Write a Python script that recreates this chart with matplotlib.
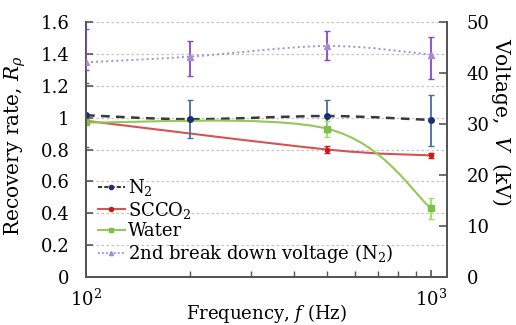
import numpy as np
import matplotlib
matplotlib.use("Agg")
import matplotlib.pyplot as plt
from matplotlib.path import Path
from matplotlib.patches import PathPatch
from matplotlib.lines import Line2D

plt.rcParams['font.family'] = ['DejaVu Serif']
plt.rcParams['mathtext.fontset'] = 'dejavuserif'
plt.rcParams['font.size'] = 13

# data
freq_n2 = [100, 200, 500, 1000]
rate_n2 = [1.015, 0.99, 1.01, 0.985]
err_n2 = [0.20, 0.12, 0.10, 0.16]

freq_co2 = [100, 500, 1000]
rate_co2 = [0.98, 0.80, 0.763]
err_co2 = [0.0, 0.02, 0.015]

freq_water = [100, 500, 1000]
rate_water = [0.97, 0.93, 0.43]
err_water = [0.0, 0.05, 0.065]

freq_v2 = [100, 200, 500, 1000]
volt_v2 = [42.1, 43.2, 45.3, 43.6]
err_v2_lo = [1.5, 3.8, 2.7, 4.7]
err_v2_hi = [6.6, 3.0, 3.0, 3.4]


def smooth_path(x, y):
    # smoothed line (catmull-rom style) in log-x space
    lx = np.log10(np.asarray(x, float))
    yy = np.asarray(y, float)
    pts = np.column_stack([lx, yy])
    n = len(pts)
    verts = [pts[0]]
    codes = [Path.MOVETO]
    for i in range(n - 1):
        p0 = pts[max(i - 1, 0)]
        p1 = pts[i]
        p2 = pts[i + 1]
        p3 = pts[min(i + 2, n - 1)]
        c1 = p1 + (p2 - p0) / 6.0
        c2 = p2 - (p3 - p1) / 6.0
        verts += [c1, c2, p2]
        codes += [Path.CURVE4] * 3
    verts = np.array(verts)
    verts[:, 0] = 10 ** verts[:, 0]
    return Path(verts, codes)


fig = plt.figure(figsize=(5.16, 3.25), dpi=100)
ax = fig.add_axes([0.1667, 0.1477, 0.6996, 0.7846])
ax2 = ax.twinx()

ax.set_xscale('log')
ax.set_xlim(100, 1110)
ax.set_ylim(0, 1.6)
ax2.set_ylim(0, 50)

ax.set_yticks([0, 0.2, 0.4, 0.6, 0.8, 1.0, 1.2, 1.4, 1.6])
ax.set_yticklabels(['0', '0.2', '0.4', '0.6', '0.8', '1', '1.2', '1.4', '1.6'])
ax2.set_yticks([0, 10, 20, 30, 40, 50])
ax.yaxis.grid(True, linestyle=(0, (2, 2)), color='#c4c4c4', linewidth=0.9)
ax.set_axisbelow(True)

spine_col = '#555555'
for a in (ax, ax2):
    a.spines['top'].set_visible(False)
    for s in ('left', 'right', 'bottom'):
        a.spines[s].set_color(spine_col)
        a.spines[s].set_linewidth(1.4)
ax.tick_params(axis='y', direction='in', length=5, width=1.2, color=spine_col, pad=12)
ax.tick_params(axis='x', which='major', direction='in', length=5, width=1.2, color=spine_col, pad=8)
ax.tick_params(axis='x', which='minor', direction='in', length=4, width=1.0, color=spine_col, labelbottom=False)
ax2.tick_params(axis='y', direction='in', length=6, width=1.2, color=spine_col, pad=14)

# N2
ax.add_patch(PathPatch(smooth_path(freq_n2, rate_n2), fill=False, edgecolor='#3a3a3a',
                       linewidth=1.8, linestyle=(0, (3.5, 2.5)), zorder=3))
ax.errorbar(freq_n2, rate_n2, yerr=err_n2, fmt='o', color='#1b2f72', ms=4,
            ecolor='#4a6aa6', elinewidth=1.3, capsize=2, capthick=1, zorder=4)

# SCCO2
ax.add_patch(PathPatch(smooth_path(freq_co2, rate_co2), fill=False, edgecolor='#d35454',
                       linewidth=1.5, zorder=3))
ax.errorbar(freq_co2[1:], rate_co2[1:], yerr=err_co2[1:], fmt='o', color='#cc1a1a', ms=3,
            ecolor='#cc1a1a', elinewidth=1.3, capsize=2, capthick=1, zorder=4)

# Water
ax.add_patch(PathPatch(smooth_path(freq_water, rate_water), fill=False, edgecolor='#92c95a',
                       linewidth=1.5, zorder=3))
ax.errorbar(freq_water, rate_water, yerr=err_water, fmt='s', color='#7cc242', ms=4,
            ecolor='#9de05e', elinewidth=1.3, capsize=2, capthick=1, zorder=4)

# 2nd break down voltage
ax2.add_patch(PathPatch(smooth_path(freq_v2, volt_v2), fill=False, edgecolor='#a58ad8',
                        linewidth=1.4, linestyle=(0, (1, 1.6)), zorder=3))
ax2.errorbar(freq_v2, volt_v2, yerr=[err_v2_lo, err_v2_hi], fmt='^', color='#a68bd6', ms=4,
             ecolor='#8b45c8', elinewidth=1.3, capsize=2, capthick=1, zorder=4)

ax.set_xlabel('Frequency, $f$ (Hz)', va='center')
ax.xaxis.set_label_coords(0.5, -0.143)
ax.set_ylabel(r'Recovery rate, $R_\rho$', va='center', fontsize=14.5)
ax.yaxis.set_label_coords(-0.195, 0.514)
ax2.set_ylabel('Voltage,  $V$  (kV)', rotation=-90, va='center', fontsize=14.5)
ax2.yaxis.set_label_coords(1.15, 0.61)

handles = [
    Line2D([], [], color='#3a3a3a', linestyle=(0, (2, 1)), marker='o', ms=3,
           markerfacecolor='#1b2f72', markeredgecolor='#1b2f72', lw=1.5),
    Line2D([], [], color='#d35454', marker='o', ms=3,
           markerfacecolor='#cc1a1a', markeredgecolor='#cc1a1a', lw=1.5),
    Line2D([], [], color='#92c95a', marker='s', ms=3,
           markerfacecolor='#7cc242', markeredgecolor='#7cc242', lw=1.5),
    Line2D([], [], color='#a58ad8', linestyle=(0, (1, 1.2)), marker='^', ms=3,
           markerfacecolor='#a68bd6', markeredgecolor='#a68bd6', lw=1.3),
]
labels = ['N$_2$', 'SCCO$_2$', 'Water', '2nd break down voltage (N$_2$)']
ax2.legend(handles, labels, loc='lower left', bbox_to_anchor=(0.0, 0.0), frameon=False,
           handlelength=1.5, handletextpad=0.15, labelspacing=0.1, borderaxespad=0.25)

fig.savefig('out.png', dpi=100)
